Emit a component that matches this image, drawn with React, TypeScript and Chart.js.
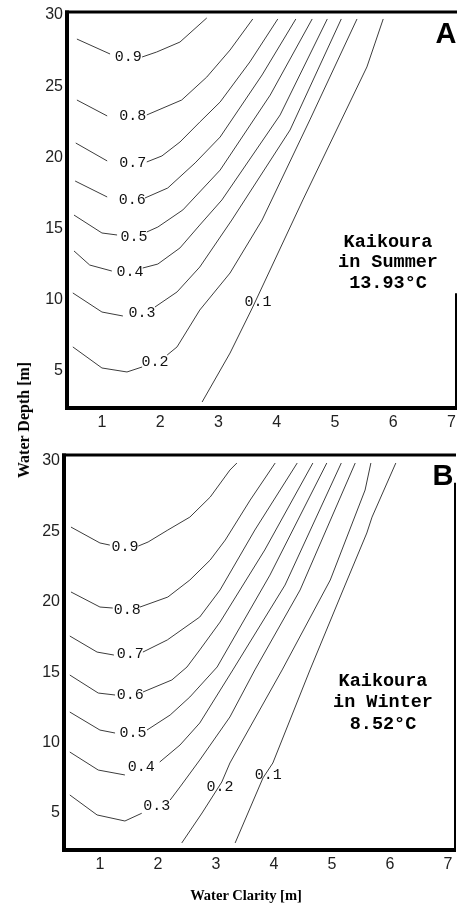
import React, { useEffect, useRef } from "react";
import { Chart, registerables } from "chart.js";

Chart.register(...registerables);

// ---------- data ----------
const LEVELS = ["0.9", "0.8", "0.7", "0.6", "0.5", "0.4", "0.3", "0.2", "0.1"];
const X_TICKS = [1, 2, 3, 4, 5, 6, 7];
const Y_TICKS = [5, 10, 15, 20, 25, 30];

// Panel A (summer) contour lines, one row per level (null = gap for the label)
const SUMMER_X: (number | null)[][] = [
  [0.57, 1.14, null, 1.69, 1.94, 2.34, 2.8],
  [0.57, 1.09, null, 1.77, 2.37, 2.8, 3.2, 3.59],
  [0.55, 1.09, null, 1.77, 2.03, 2.34, 2.68, 3.03, 3.54, 4.02],
  [0.54, 1.09, null, 1.74, 2.13, 2.6, 3.03, 3.75, 4.33],
  [0.52, 1.0, 1.26, null, 1.77, 1.96, 2.39, 3.03, 3.89, 4.61],
  [0.52, 0.79, 1.17, null, 1.7, 1.96, 2.34, 2.68, 3.06, 4.06, 4.87],
  [0.5, 1.0, 1.36, null, 1.91, 2.29, 2.68, 3.23, 4.23, 5.11],
  [0.5, 1.0, 1.43, 1.69, null, 2.12, 2.29, 2.68, 3.2, 3.75, 4.57, 5.38],
  [2.72, 3.2, 3.59, 4.45, 5.55, 5.69, 5.83],
];
const SUMMER_Y: (number | null)[][] = [
  [28.31, 27.26, null, 27.05, 27.4, 28.1, 29.79],
  [24.03, 22.91, null, 22.98, 24.03, 25.64, 27.54, 29.72],
  [21.01, 19.75, null, 19.68, 20.1, 21.08, 22.48, 23.89, 26.7, 29.72],
  [18.34, 17.22, null, 17.15, 17.85, 19.61, 21.43, 25.79, 29.72],
  [15.95, 14.69, 14.55, null, 14.76, 15.11, 16.31, 19.11, 24.38, 29.72],
  [13.43, 12.44, 12.02, null, 12.23, 12.51, 13.64, 15.25, 17.01, 22.98, 29.72],
  [10.48, 9.14, 8.86, null, 9.49, 10.55, 12.3, 15.6, 21.92, 29.72],
  [6.69, 5.21, 4.93, 5.28, null, 6.12, 6.69, 9.28, 11.88, 15.6, 22.63, 29.72],
  [2.82, 6.26, 9.49, 17.01, 26.35, 28.03, 29.72],
];
const SUMMER_LABEL_X = [1.45, 1.53, 1.53, 1.52, 1.55, 1.48, 1.69, 1.91, 3.68];
const SUMMER_LABEL_Y = [27.05, 22.91, 19.61, 17.01, 14.41, 11.95, 9.07, 5.63, 9.85];

// Panel B (winter)
const WINTER_X: (number | null)[][] = [
  [0.5, 1.0, 1.17, null, 1.66, 1.83, 2.17, 2.55, 2.9, 3.24, 3.36],
  [0.5, 1.0, 1.22, null, 1.69, 2.17, 2.55, 2.9, 3.16, 3.59, 4.02],
  [0.48, 0.95, 1.24, null, 1.74, 2.16, 2.72, 3.07, 3.67, 4.4],
  [0.48, 0.97, 1.26, null, 1.74, 2.24, 2.5, 2.72, 3.07, 3.84, 4.67],
  [0.48, 1.0, 1.26, null, 1.81, 2.21, 2.55, 3.02, 3.93, 4.91],
  [0.48, 0.97, 1.43, null, 2.03, 2.38, 2.72, 3.29, 4.19, 5.16],
  [0.48, 0.95, 1.43, 1.72, null, 2.21, 2.38, 2.72, 3.24, 3.67, 4.45, 5.4],
  [2.41, 2.76, 3.1, 3.24, 4.14, 4.97, 5.57, 5.67],
  [3.33, 3.81, 3.98, 4.62, 5.19, 5.6, 5.69, 6.1],
];
const WINTER_Y: (number | null)[][] = [
  [25.31, 24.18, 24.03, null, 23.96, 24.25, 25.1, 26.02, 27.44, 29.36, 29.86],
  [20.7, 19.63, 19.56, null, 19.63, 20.34, 21.55, 22.97, 24.39, 27.23, 29.86],
  [17.57, 16.43, 16.22, null, 16.43, 17.29, 18.92, 20.84, 25.1, 29.86],
  [14.8, 13.52, 13.38, null, 13.59, 14.45, 15.37, 16.58, 18.56, 23.68, 29.86],
  [12.17, 10.89, 10.68, null, 10.89, 11.96, 13.24, 15.37, 21.9, 29.86],
  [9.33, 8.05, 7.7, null, 8.62, 9.83, 11.39, 15.16, 21.19, 29.86],
  [6.28, 4.86, 4.43, 4.98, null, 5.92, 6.85, 8.76, 11.82, 15.16, 20.84, 29.86],
  [2.87, 5.0, 7.2, 8.55, 15.16, 21.55, 27.94, 29.86],
  [2.87, 7.49, 8.55, 15.16, 20.84, 24.89, 26.02, 29.86],
];
const WINTER_LABEL_X = [1.43, 1.47, 1.52, 1.52, 1.57, 1.71, 1.98, 3.07, 3.9];
const WINTER_LABEL_Y = [23.89, 19.42, 16.29, 13.38, 10.68, 8.27, 5.5, 6.85, 7.7];

const SUMMER_NOTE = ["Kaikoura", "in Summer", "13.93\u00B0C"];
const WINTER_NOTE = ["Kaikoura", "in Winter", "8.52\u00B0C"];

// ---------- panel spec ----------
type Spec = {
  xs: (number | null)[][];
  ys: (number | null)[][];
  lx: number[];
  ly: number[];
  xMin: number;
  xMax: number;
  yMin: number;
  yMax: number;
  width: number;
  height: number;
  area: { left: number; top: number; right: number; bottom: number };
  rightBorderFrom: number;
  note: string[];
  noteX: number;
  noteBaselines: number[];
  letter: string;
  letterX: number;
  letterBaseline: number;
};

function makePlugin(spec: Spec) {
  return {
    id: "panelDecor" + spec.letter,
    afterDatasetsDraw(chart: any) {
      const { ctx, chartArea, scales } = chart;
      const { left, top, right, bottom } = chartArea;
      ctx.save();
      // contour labels
      ctx.font = '15px "Liberation Mono", "DejaVu Sans Mono", monospace';
      ctx.fillStyle = "#111";
      ctx.textAlign = "center";
      ctx.textBaseline = "middle";
      spec.lx.forEach((lx, i) => {
        ctx.fillText(
          LEVELS[i],
          scales.x.getPixelForValue(lx),
          scales.y.getPixelForValue(spec.ly[i])
        );
      });
      // frame
      ctx.strokeStyle = "#000";
      ctx.lineCap = "butt";
      ctx.lineWidth = 3;
      ctx.beginPath();
      ctx.moveTo(left - 2, top);
      ctx.lineTo(right + 1, top);
      ctx.stroke();
      ctx.lineWidth = 4;
      ctx.beginPath();
      ctx.moveTo(left, top - 1.5);
      ctx.lineTo(left, bottom + 2);
      ctx.stroke();
      ctx.beginPath();
      ctx.moveTo(left - 2, bottom);
      ctx.lineTo(right + 1, bottom);
      ctx.stroke();
      ctx.lineWidth = 2;
      ctx.beginPath();
      ctx.moveTo(right, top + (bottom - top) * spec.rightBorderFrom);
      ctx.lineTo(right, bottom);
      ctx.stroke();
      // note
      ctx.fillStyle = "#000";
      ctx.textBaseline = "alphabetic";
      ctx.font = 'bold 18.5px "Liberation Mono", "DejaVu Sans Mono", monospace';
      spec.note.forEach((t, i) => ctx.fillText(t, spec.noteX, spec.noteBaselines[i]));
      // panel letter
      ctx.font = 'bold 29px "Liberation Sans", Arial, sans-serif';
      ctx.fillText(spec.letter, spec.letterX, spec.letterBaseline);
      ctx.restore();
    },
  };
}

function buildChart(canvas: HTMLCanvasElement, spec: Spec) {
  const datasets = spec.xs.map((xs, i) => ({
    data: xs.map((x, j) => ({ x: x, y: spec.ys[i][j] })),
    showLine: true,
    borderColor: "#3c3c3c",
    borderWidth: 1,
    pointRadius: 0,
    pointHoverRadius: 0,
    fill: false,
    spanGaps: false,
    tension: 0,
  }));
  const tickFont = { family: '"Liberation Sans", Arial, sans-serif', size: 16 };
  return new Chart(canvas, {
    type: "scatter",
    data: { datasets: datasets as any },
    options: {
      animation: false,
      responsive: false,
      events: [],
      layout: {
        padding: {
          left: 0,
          top: spec.area.top,
          right: spec.width - spec.area.right,
          bottom: 0,
        },
      },
      plugins: {
        legend: { display: false },
        tooltip: { enabled: false },
        title: { display: false },
      },
      scales: {
        x: {
          type: "linear",
          min: spec.xMin,
          max: spec.xMax,
          grid: { display: false, drawTicks: false },
          border: { display: false },
          ticks: {
            padding: 5,
            color: "#222",
            font: tickFont,
            maxRotation: 0,
            autoSkip: false,
          },
          afterBuildTicks: (s: any) => {
            s.ticks = X_TICKS.map((v) => ({ value: v }));
          },
          afterFit: (s: any) => {
            s.height = spec.height - spec.area.bottom;
            s.paddingLeft = 0;
            s.paddingRight = 0;
          },
        },
        y: {
          type: "linear",
          min: spec.yMin,
          max: spec.yMax,
          grid: { display: false, drawTicks: false },
          border: { display: false },
          ticks: {
            padding: 4,
            color: "#222",
            font: tickFont,
            autoSkip: false,
          },
          afterBuildTicks: (s: any) => {
            s.ticks = Y_TICKS.map((v) => ({ value: v }));
          },
          afterFit: (s: any) => {
            s.width = spec.area.left;
            s.paddingTop = 0;
            s.paddingBottom = 0;
          },
        },
      },
    } as any,
    plugins: [makePlugin(spec) as any],
  });
}

const SPEC_A: Spec = {
  xs: SUMMER_X,
  ys: SUMMER_Y,
  lx: SUMMER_LABEL_X,
  ly: SUMMER_LABEL_Y,
  xMin: 0.4,
  xMax: 7.08,
  yMin: 2.4,
  yMax: 30.21,
  width: 458,
  height: 440,
  area: { left: 67, top: 12, right: 456, bottom: 408 },
  rightBorderFrom: 0.71,
  note: SUMMER_NOTE,
  noteX: 388,
  noteBaselines: [247, 267, 288],
  letter: "A",
  letterX: 446,
  letterBaseline: 43,
};

const SPEC_B: Spec = {
  xs: WINTER_X,
  ys: WINTER_Y,
  lx: WINTER_LABEL_X,
  ly: WINTER_LABEL_Y,
  xMin: 0.38,
  xMax: 7.12,
  yMin: 2.37,
  yMax: 30.43,
  width: 458,
  height: 464,
  area: { left: 64, top: 15, right: 455, bottom: 410 },
  rightBorderFrom: 0.07,
  note: WINTER_NOTE,
  noteX: 383,
  noteBaselines: [246, 267, 289],
  letter: "B",
  letterX: 443,
  letterBaseline: 45,
};

export default function App() {
  const refA = useRef<HTMLCanvasElement | null>(null);
  const refB = useRef<HTMLCanvasElement | null>(null);

  useEffect(() => {
    const a = buildChart(refA.current!, SPEC_A);
    const b = buildChart(refB.current!, SPEC_B);
    return () => {
      a.destroy();
      b.destroy();
    };
  }, []);

  return (
    <div
      style={{
        position: "absolute",
        left: 0,
        top: 0,
        width: 458,
        height: 904,
        background: "#fff",
        overflow: "hidden",
      }}
    >
      <canvas
        ref={refA}
        width={458}
        height={440}
        style={{ position: "absolute", left: 0, top: 0, width: 458, height: 440 }}
      />
      <canvas
        ref={refB}
        width={458}
        height={464}
        style={{ position: "absolute", left: 0, top: 440, width: 458, height: 464 }}
      />
      <div
        style={{
          position: "absolute",
          left: 24,
          top: 420,
          transform: "translate(-50%, -50%) rotate(-90deg)",
          whiteSpace: "nowrap",
          font: 'bold 16px "Liberation Serif", "Times New Roman", serif',
          color: "#000",
          lineHeight: 1,
        }}
      >
        Water Depth [m]
      </div>
      <div
        style={{
          position: "absolute",
          left: 246,
          top: 895,
          transform: "translate(-50%, -50%)",
          whiteSpace: "nowrap",
          font: 'bold 14.5px "Liberation Serif", "Times New Roman", serif',
          color: "#000",
          lineHeight: 1,
        }}
      >
        Water Clarity [m]
      </div>
    </div>
  );
}
